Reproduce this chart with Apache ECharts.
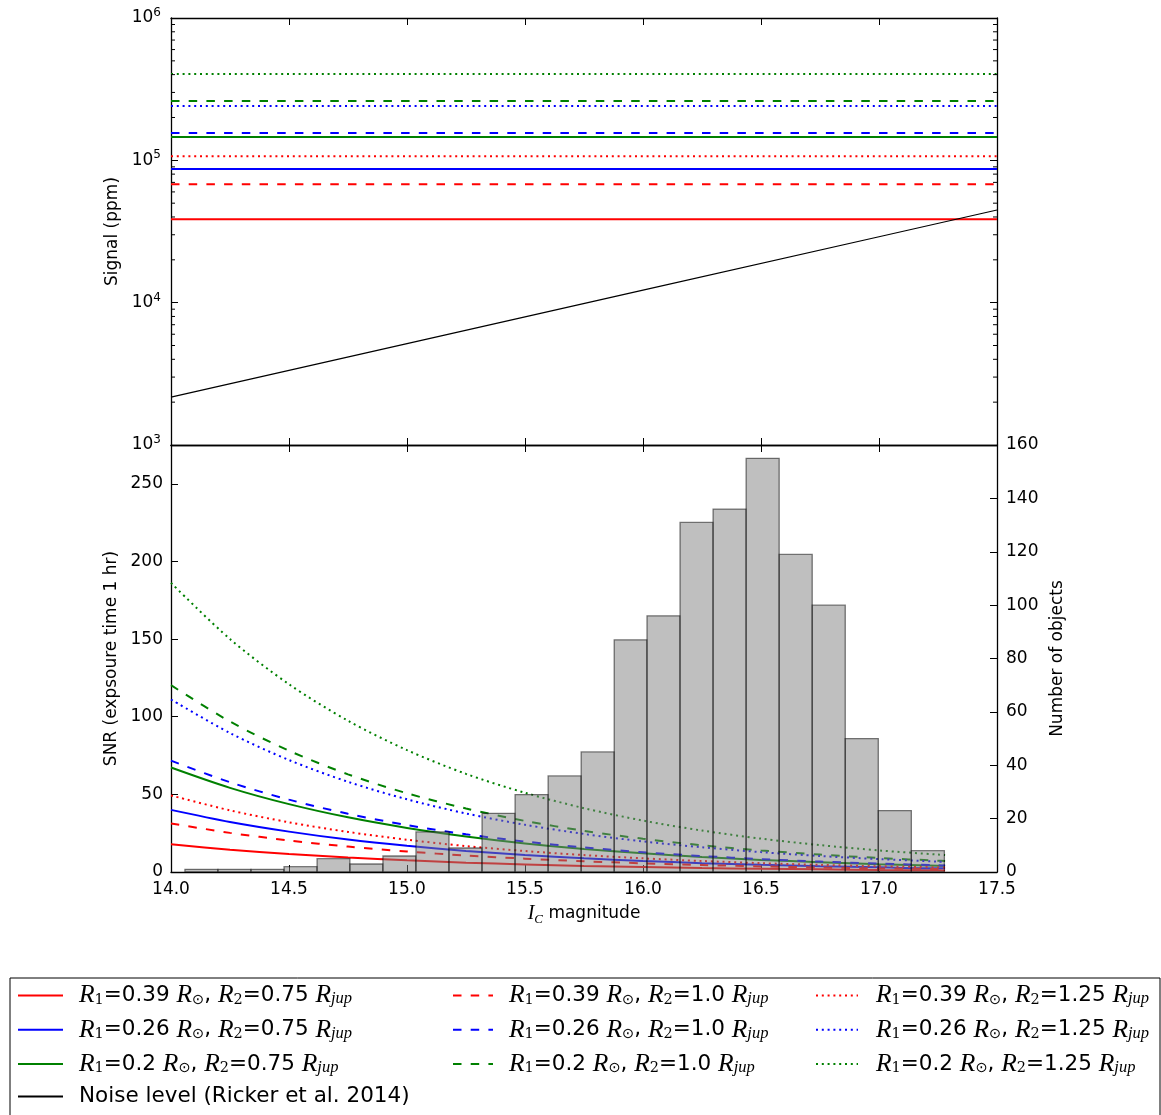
<!DOCTYPE html>
<html><head><meta charset="utf-8">
<script src="https://cdn.jsdelivr.net/npm/echarts@6/dist/echarts.min.js"></script>
<style>html,body{margin:0;padding:0;background:#fff}#c{width:1161px;height:1115px}</style>
</head><body><div id="c"></div>
<script>
// ---- data ----
const xTickLabels = ['14.0','14.5','15.0','15.5','16.0','16.5','17.0','17.5'];
const seriesNames = [
  'R1=0.39 Rsun, R2=0.75 Rjup','R1=0.26 Rsun, R2=0.75 Rjup','R1=0.2 Rsun, R2=0.75 Rjup',
  'R1=0.39 Rsun, R2=1.0 Rjup','R1=0.26 Rsun, R2=1.0 Rjup','R1=0.2 Rsun, R2=1.0 Rjup',
  'R1=0.39 Rsun, R2=1.25 Rjup','R1=0.26 Rsun, R2=1.25 Rjup','R1=0.2 Rsun, R2=1.25 Rjup'];
const r1Labels = ['0.39','0.26','0.2','0.39','0.26','0.2','0.39','0.26','0.2'];
const r2Labels = ['0.75','0.75','0.75','1.0','1.0','1.0','1.25','1.25','1.25'];
const noiseName = 'Noise level (Ricker et al. 2014)';
// signal (ppm), constant over magnitude
const signalPpm = [38600, 86900, 146000, 68000, 155600, 261000, 107000, 241000, 404000];
// noise level (ppm)
const noiseMag = [14.0, 15.0, 16.0, 17.0, 17.5];
const noisePpm = [2170, 5150, 12240, 29050, 44800];
// SNR curves
const snrMag = [14.0,14.25,14.5,14.75,15.0,15.25,15.5,15.75,16.0,16.25,16.5,16.75,17.0,17.25,17.28];
const snr039_075 = [17.8,14.3,11.6,9.3,7.5,6.0,4.9,3.9,3.2,2.5,2.1,1.7,1.3,1.1,1.0];
const snr026_075 = [40.0,32.2,26.0,20.9,16.9,13.6,10.9,8.8,7.1,5.7,4.6,3.7,3.0,2.4,2.4];
const snr020_075 = [67.3,54.2,43.7,35.2,28.4,22.9,18.4,14.8,12.0,9.6,7.8,6.3,5.0,4.1,4.0];
const snr039_100 = [31.3,25.2,20.3,16.4,13.2,10.6,8.6,6.9,5.6,4.5,3.6,2.9,2.3,1.9,1.8];
const snr026_100 = [71.7,57.8,46.6,37.5,30.2,24.3,19.6,15.8,12.7,10.3,8.3,6.7,5.4,4.3,4.2];
const snr020_100 = [120.3,96.9,78.1,62.9,50.7,40.9,32.9,26.5,21.4,17.2,13.9,11.2,9.0,7.3,7.1];
const snr039_125 = [49.3,39.7,32.0,25.8,20.8,16.7,13.5,10.9,8.8,7.1,5.7,4.6,3.7,3.0,2.9];
const snr026_125 = [111.1,89.5,72.1,58.1,46.8,37.7,30.4,24.5,19.7,15.9,12.8,10.3,8.3,6.7,6.5];
const snr020_125 = [186.2,150.0,120.9,97.4,78.5,63.2,51.0,41.1,33.1,26.7,21.5,17.3,13.9,11.2,10.9];
// histogram
const histEdges = [14.059,14.199,14.339,14.479,14.619,14.758,14.898,15.038,15.178,15.318,15.458,15.598,
  15.738,15.878,16.017,16.157,16.297,16.437,16.577,16.717,16.857,16.997,17.137,17.277];
const histCounts = [1,1,1,2,5,3,6,15,9,22,29,36,45,87,96,131,136,155,119,100,50,23,8];

// ---- styles ----
const colors = ['#ff0000','#0000ff','#008000','#ff0000','#0000ff','#008000','#ff0000','#0000ff','#008000'];
const dashTypes = ['solid','solid','solid',[8.5,9.2],[8.5,9.2],[8.5,9.2],[2,3.8],[2,3.8],[2,3.8]];
const snrData = [snr039_075,snr026_075,snr020_075,snr039_100,snr026_100,snr020_100,snr039_125,snr026_125,snr020_125];

const FONT = 'DejaVu Sans';
const axisLine = {show:true, onZero:false, lineStyle:{color:'#000', width:1.3}};
const tick = {show:true, inside:true, length:7, lineStyle:{color:'#000', width:1}};

const series = [];
for (let i = 0; i < 9; i++) {
  series.push({
    name: seriesNames[i], type:'line', xAxisIndex:0, yAxisIndex:0, symbol:'none',
    lineStyle:{color:colors[i], width:2, type:dashTypes[i]}, itemStyle:{color:colors[i]},
    data:[[14.0, signalPpm[i]],[17.5, signalPpm[i]]], z:3
  });
}
series.push({
  name: noiseName, type:'line', xAxisIndex:0, yAxisIndex:0, symbol:'none',
  lineStyle:{color:'#000', width:1.2}, itemStyle:{color:'#000'},
  data: noiseMag.map((m,i)=>[m, noisePpm[i]]), z:3
});
// minor log ticks
const minorVals = [];
for (let d = 1000; d < 1e6; d *= 10) for (let k = 2; k <= 9; k++) minorVals.push([14, d*k]);
series.push({
  type:'custom', xAxisIndex:0, yAxisIndex:0, silent:true, z:5,
  data: minorVals, encode:{x:0, y:1},
  renderItem(params, api) {
    const v = api.value(1);
    const a = api.coord([14, v]), b = api.coord([17.5, v]);
    return {type:'group', children:[
      {type:'line', shape:{x1:a[0], y1:a[1], x2:a[0]+4, y2:a[1]}, style:{stroke:'#000', lineWidth:1}},
      {type:'line', shape:{x1:b[0], y1:b[1], x2:b[0]-4, y2:b[1]}, style:{stroke:'#000', lineWidth:1}}
    ]};
  }
});
for (let i = 0; i < 9; i++) {
  series.push({
    name: seriesNames[i], type:'line', xAxisIndex:2, yAxisIndex:2, symbol:'none',
    smooth:0.3,
    lineStyle:{color:colors[i], width:2, type:dashTypes[i]}, itemStyle:{color:colors[i]},
    data: snrMag.map((m,j)=>[m, snrData[i][j]]), z:3
  });
}
series.push({
  type:'custom', xAxisIndex:2, yAxisIndex:3, silent:true, z:4,
  data: histCounts.map((c,i)=>[histEdges[i], histEdges[i+1], c]),
  encode:{x:[0,1], y:2},
  renderItem(params, api) {
    const p0 = api.coord([api.value(0), 0]);
    const p1 = api.coord([api.value(1), api.value(2)]);
    return {type:'rect', shape:{x:p0[0], y:p1[1], width:p1[0]-p0[0], height:p0[1]-p1[1]},
      style:{fill:'rgba(128,128,128,0.5)', stroke:'rgba(0,0,0,0.5)', lineWidth:1.3}};
  }
});

const legendRich = {
  i:{fontFamily:'Liberation Serif', fontStyle:'italic', fontSize:25.5, lineHeight:24, verticalAlign:'middle', color:'#000'},
  s:{fontFamily:'DejaVu Serif', fontSize:14.5, lineHeight:12, verticalAlign:'bottom', color:'#000'},
  si:{fontFamily:'Liberation Serif', fontStyle:'italic', fontSize:16.5, lineHeight:12, verticalAlign:'bottom', color:'#000'},
  o:{fontFamily:FONT, fontSize:14.5, lineHeight:12, verticalAlign:'bottom', color:'#000'},
  t:{fontFamily:FONT, fontSize:21.5, lineHeight:24, verticalAlign:'middle', color:'#000'}
};
function legendFmt(name) {
  const i = seriesNames.indexOf(name);
  if (i < 0) return '{t|' + name + '}';
  return '{i|R}{s|1}{t|=' + r1Labels[i] + ' }{i|R}{o|⊙}{t|, }{i|R}{s|2}{t|=' + r2Labels[i] + ' }{i|R}{si|jup}';
}
function mkLegend(left, data, w, pad) {
  return {
    left: left, top: 982.5, orient:'vertical', itemWidth: w, itemHeight: 14, itemGap: 8.3,
    padding: 0, selectedMode:false, data: data, formatter: legendFmt,
    itemStyle:{opacity:0},
    textStyle:{fontFamily:FONT, fontSize:21.5, color:'#000', padding:[0,0,0,pad], rich: legendRich}
  };
}

const supRich = {
  b:{fontFamily:FONT, fontSize:17, color:'#000', lineHeight:22, verticalAlign:'middle'},
  p:{fontFamily:FONT, fontSize:12, color:'#000', lineHeight:12, verticalAlign:'top'}
};

const option = {
  animation:false, backgroundColor:'#fff',
  grid:[
    {left:171, top:18, width:826, height:427, containLabel:false},
    {left:171, top:445, width:826, height:427, containLabel:false}
  ],
  xAxis:[
    {gridIndex:0, type:'value', position:'bottom', min:14, max:17.5, interval:0.5,
      axisLine, axisTick:tick, axisLabel:{show:false}, splitLine:{show:false}},
    {gridIndex:0, type:'value', position:'top', min:14, max:17.5, interval:0.5,
      axisLine, axisTick:tick, axisLabel:{show:false}, splitLine:{show:false}},
    {gridIndex:1, type:'value', position:'bottom', min:14, max:17.5, interval:0.5,
      axisLine, axisTick:tick, splitLine:{show:false},
      axisLabel:{fontFamily:FONT, fontSize:17, color:'#000', margin:9,
        formatter: v => xTickLabels[Math.round((v-14)/0.5)] || ''},
      name:'{i|I}{s|C}{t| magnitude}', nameLocation:'middle', nameGap:30,
      nameTextStyle:{rich:{
        i:{fontFamily:'Liberation Serif', fontStyle:'italic', fontSize:20, lineHeight:24, verticalAlign:'middle', color:'#000'},
        s:{fontFamily:'Liberation Serif', fontStyle:'italic', fontSize:13, lineHeight:13, verticalAlign:'bottom', color:'#000'},
        t:{fontFamily:FONT, fontSize:17, lineHeight:24, verticalAlign:'middle', color:'#000'}}}},
    {gridIndex:1, type:'value', position:'top', min:14, max:17.5, interval:0.5,
      axisLine, axisTick:tick, axisLabel:{show:false}, splitLine:{show:false}}
  ],
  yAxis:[
    {gridIndex:0, type:'log', logBase:10, min:1000, max:1000000, position:'left',
      axisLine, axisTick:tick, splitLine:{show:false}, minorTick:{show:false},
      axisLabel:{margin:10, formatter: v => '{b|10}{p|' + Math.round(Math.log10(v)) + '}', rich: supRich},
      name:'Signal (ppm)', nameLocation:'middle', nameGap:48, nameRotate:90,
      nameTextStyle:{fontFamily:FONT, fontSize:17, color:'#000'}},
    {gridIndex:0, type:'log', logBase:10, min:1000, max:1000000, position:'right',
      axisLine, axisTick:tick, splitLine:{show:false}, axisLabel:{show:false}},
    {gridIndex:1, type:'value', min:0, max:275, interval:50, position:'left',
      axisLine, axisTick:tick, splitLine:{show:false},
      axisLabel:{fontFamily:FONT, fontSize:17, color:'#000', margin:8, showMaxLabel:false,
        formatter: v => (v % 50 === 0 ? String(v) : '')},
      name:'SNR (expsoure time 1 hr)', nameLocation:'middle', nameGap:48, nameRotate:90,
      nameTextStyle:{fontFamily:FONT, fontSize:17, color:'#000'}},
    {gridIndex:1, type:'value', min:0, max:160, interval:20, position:'right',
      axisLine, axisTick:tick, splitLine:{show:false},
      axisLabel:{fontFamily:FONT, fontSize:17, color:'#000', margin:9},
      name:'Number of objects', nameLocation:'middle', nameGap:47, nameRotate:90,
      nameTextStyle:{fontFamily:FONT, fontSize:17, color:'#000'}}
  ],
  legend:[
    mkLegend(17, [seriesNames[0], seriesNames[1], seriesNames[2], noiseName], 45, 11),
    mkLegend(452, [seriesNames[3], seriesNames[4], seriesNames[5]], 40, 11),
    mkLegend(815, [seriesNames[6], seriesNames[7], seriesNames[8]], 42, 13)
  ],
  graphic:[{type:'rect', shape:{x:10, y:978, width:1150, height:160}, style:{fill:null, stroke:'#000', lineWidth:1}, silent:true}],
  series
};
const chart = echarts.init(document.getElementById('c'), null, {renderer:'canvas'});
chart.setOption(option);
</script></body></html>
